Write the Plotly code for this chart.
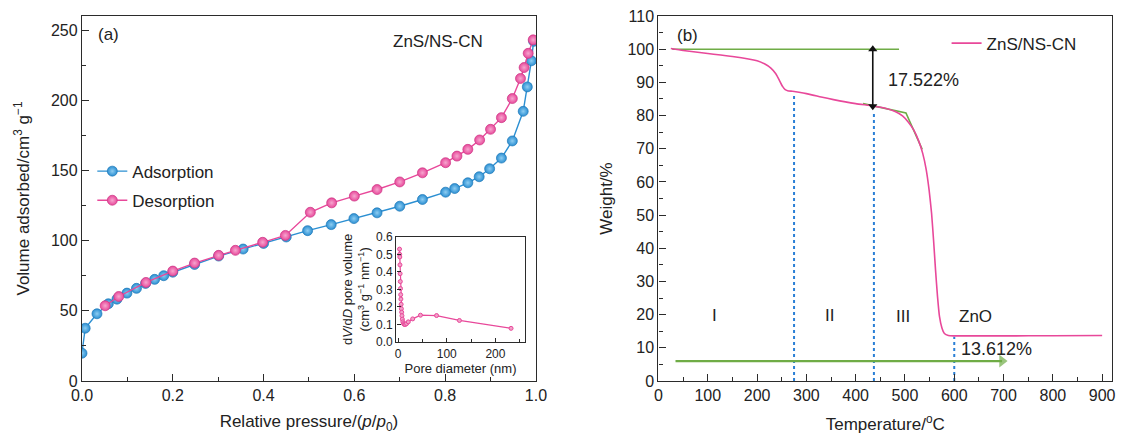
import plotly.graph_objects as go

# ---------------- data: N2 isotherm (panel a) ----------------
ads_p = [0.0, 0.007, 0.033, 0.058, 0.077, 0.099, 0.12, 0.14, 0.16, 0.18, 0.2, 0.248, 0.301,
         0.355, 0.4, 0.45, 0.497, 0.549, 0.599, 0.65, 0.7, 0.75, 0.801, 0.821, 0.85, 0.875,
         0.898, 0.924, 0.948, 0.972, 0.981, 0.99, 0.995]
ads_v = [19.8, 37.6, 47.9, 55.0, 58.3, 62.6, 66.0, 69.5, 72.4, 75.0, 77.5, 83.0, 89.0,
         94.0, 98.0, 102.6, 107.1, 111.4, 115.7, 119.8, 124.5, 129.3, 134.5, 137.1, 141.2, 145.5,
         151.2, 158.8, 171.0, 192.1, 209.5, 228.1, 242.0]
des_p = [0.051, 0.081, 0.141, 0.2, 0.248, 0.301, 0.338, 0.398, 0.448, 0.503, 0.55, 0.6, 0.65,
         0.7, 0.75, 0.801, 0.826, 0.85, 0.876, 0.9, 0.924, 0.948, 0.966, 0.974, 0.983, 0.994]
des_v = [53.6, 60.2, 70.2, 78.3, 84.0, 89.5, 93.1, 98.8, 103.7, 120.2, 126.9, 131.7, 136.4,
         141.8, 148.3, 155.5, 160.2, 165.0, 171.7, 179.3, 187.6, 201.2, 215.5, 223.3, 233.4, 243.0]

# inset: pore size distribution
pore_d = [3.0, 3.3, 3.6, 3.9, 4.2, 4.6, 5.0, 5.4, 5.8, 6.3, 6.8, 7.4, 8.0, 8.8, 9.8,
          11.2, 13.0, 15.0, 17.5, 21.0, 30.0, 46.0, 79.0, 126.0, 232.0]
pore_v = [0.53, 0.50, 0.485, 0.44, 0.39, 0.345, 0.305, 0.27, 0.245, 0.215, 0.19, 0.17, 0.15,
          0.13, 0.115, 0.105, 0.10, 0.10, 0.105, 0.115, 0.132, 0.153, 0.151, 0.123, 0.078]

# ---------------- data: TGA (panel b) ----------------
tga_t = [25, 50, 100, 150, 200, 215, 228, 238, 246, 252, 257, 262, 272, 285, 300, 330, 355,
         400, 435, 460, 480, 495, 507, 518, 528, 536, 543, 549, 554, 558, 562, 566, 570, 575,
         580, 588, 600, 650, 700, 800, 900]
tga_w = [100.2, 99.6, 98.7, 97.8, 96.5, 95.6, 94.3, 92.6, 90.4, 88.7, 87.8, 87.5, 87.3, 87.0,
         86.6, 85.6, 84.8, 83.6, 82.9, 82.2, 81.2, 79.9, 78.0, 75.6, 72.3, 68.6, 63.8, 57.5,
         50.5, 42.5, 33.5, 25.5, 19.5, 16.0, 14.3, 13.7, 13.6, 13.6, 13.6, 13.65, 13.7]

baseline_t = [28, 488]
baseline_w = [100, 100]
tangent_t = [415, 502, 535]
tangent_w = [83.6, 80.8, 69.8]
stage_t = [275, 437, 600]
stage_top = [86.0, 80.5, 13.3]
stage_labels = ["I", "II", "III", "ZnO"]
stage_label_t = [114, 347, 496, 643]
stage_label_w = [19.8, 19.6, 19.3, 19.3]
loss_t = 434.7
loss_w = [100, 82.8]
residue_t = [34.5, 697]
residue_w = [6.0, 6.0]

BLUE = "#2b8fd2"
PINK = "#e8489a"
GREEN = "#6fac46"
DOTBLUE = "#2a7fd6"
AX = "#2b2b2b"
FONT = "Arial, Liberation Sans, sans-serif"

fig = go.Figure()

sphere = lambda c, g, e: dict(size=10, color=c, gradient=dict(type="radial", color=g),
                              line=dict(width=0.7, color=e))

fig.add_trace(go.Scatter(x=ads_p, y=ads_v, mode="lines+markers", name="Adsorption",
                         line=dict(color=BLUE, width=1.4),
                         marker=sphere(BLUE, "#8ecdf2", "#1f78b8"),
                         xaxis="x", yaxis="y", legend="legend", legendgroup="a"))
fig.add_trace(go.Scatter(x=des_p, y=des_v, mode="lines+markers", name="Desorption",
                         line=dict(color=PINK, width=1.4),
                         marker=sphere(PINK, "#f6a6cf", "#cc3584"),
                         xaxis="x", yaxis="y", legend="legend", legendgroup="b"))

fig.add_trace(go.Scatter(x=pore_d, y=pore_v, mode="lines+markers", showlegend=False,
                         line=dict(color=PINK, width=1.2),
                         marker=dict(size=4, color="#f3a0c8", line=dict(width=1, color=PINK)),
                         xaxis="x3", yaxis="y3"))

# panel b
fig.add_trace(go.Scatter(x=baseline_t, y=baseline_w, mode="lines", showlegend=False,
                         line=dict(color=GREEN, width=1.6), xaxis="x2", yaxis="y2"))
fig.add_trace(go.Scatter(x=tangent_t, y=tangent_w, mode="lines", showlegend=False,
                         line=dict(color=GREEN, width=1.6), xaxis="x2", yaxis="y2"))
for t, top in zip(stage_t, stage_top):
    fig.add_trace(go.Scatter(x=[t, t], y=[0, top], mode="lines", showlegend=False,
                             line=dict(color=DOTBLUE, width=2, dash="dot"),
                             xaxis="x2", yaxis="y2"))
fig.add_trace(go.Scatter(x=tga_t, y=tga_w, mode="lines", name="ZnS/NS-CN",
                         line=dict(color=PINK, width=1.6, shape="spline", smoothing=0.5),
                         xaxis="x2", yaxis="y2", legend="legend2"))
# double-headed weight-loss arrow
fig.add_trace(go.Scatter(x=[loss_t, loss_t], y=loss_w, mode="lines+markers", showlegend=False,
                         line=dict(color="#111111", width=1.6),
                         marker=dict(symbol=["triangle-up", "triangle-down"], size=8,
                                     color="#111111", line=dict(width=0)),
                         xaxis="x2", yaxis="y2", hoverinfo="skip"))
# green residue arrow
fig.add_trace(go.Scatter(x=residue_t, y=residue_w, mode="lines+markers", showlegend=False,
                         line=dict(color=GREEN, width=2.4),
                         marker=dict(symbol=["line-ns", "triangle-right"], size=[1, 11],
                                     color=GREEN, line=dict(width=0)),
                         xaxis="x2", yaxis="y2", hoverinfo="skip"))

annotations = [
    dict(text="(a)", x=0.058, y=247, xref="x", yref="y", showarrow=False,
         font=dict(size=17)),
    dict(text="ZnS/NS-CN", x=0.784, y=242, xref="x", yref="y", showarrow=False,
         font=dict(size=17)),
    dict(text="(b)", x=58, y=104, xref="x2", yref="y2", showarrow=False, font=dict(size=17)),
    dict(text="17.522%", x=538, y=90.6, xref="x2", yref="y2", showarrow=False,
         font=dict(size=18)),
    dict(text="13.612%", x=685, y=9.6, xref="x2", yref="y2", showarrow=False,
         font=dict(size=18)),
]
for lab, t, w in zip(stage_labels, stage_label_t, stage_label_w):
    annotations.append(dict(text=lab, x=t, y=w, xref="x2", yref="y2", showarrow=False,
                            font=dict(size=17)))

def axis(domain, anchor, rng, dtick, mdtick, title, fmt=None, fs=16, tl=7, standoff=None):
    d = dict(domain=domain, anchor=anchor, range=rng, dtick=dtick, tick0=0,
             showline=True, linecolor=AX, linewidth=1.4, mirror=True,
             ticks="inside", ticklen=tl, tickwidth=1.3, tickcolor=AX,
             showgrid=False, zeroline=False, automargin=False,
             tickfont=dict(size=fs, color="#222222", family=FONT),
             title=dict(text=title, font=dict(size=fs + 1, color="#222222", family=FONT)))
    if standoff is not None:
        d["title"]["standoff"] = standoff
    if fmt:
        d["tickformat"] = fmt
    if mdtick:
        d["minor"] = dict(dtick=mdtick, ticks="inside", ticklen=tl // 2 + 1, tickwidth=1.1,
                          tickcolor=AX, showgrid=False)
    return d

fig.update_layout(
    width=1122, height=434, autosize=False,
    margin=dict(l=82, r=10, t=16, b=53, autoexpand=False),
    paper_bgcolor="white", plot_bgcolor="white",
    font=dict(family=FONT, color="#222222"),
    xaxis=axis([0.0, 0.4407], "y", [0, 1], 0.2, 0.1,
               "Relative pressure/(<i>p</i>/<i>p</i><sub>0</sub>)", fmt=".1f", standoff=13),
    yaxis=axis([0.0, 1.0], "x", [0, 260], 50, 25,
               "Volume adsorbed/cm<sup>3</sup> g<sup>−1</sup>", standoff=16),
    xaxis2=axis([0.5597, 1.0], "y2", [0, 920], 100, 50,
                "Temperature/<sup>o</sup>C", standoff=14),
    yaxis2=axis([0.0, 1.0], "x2", [0, 110], 10, 5, "Weight/%", standoff=10),
    xaxis3=axis([0.3052, 0.4298], "y3", [-3.5, 260], 100, 50, "Pore diameter (nm)",
                fs=12, tl=4, standoff=0),
    yaxis3=axis([0.1068, 0.395], "x3", [0, 0.6], 0.1, None,
                "d<i>V</i>/d<i>D</i> pore volume<br>(cm<sup>3</sup> g<sup>−1</sup> nm<sup>−1</sup>)",
                fmt=".1f", fs=12, tl=4, standoff=3),
    legend=dict(x=0.010, y=0.534, xanchor="left", yanchor="middle", bgcolor="rgba(0,0,0,0)",
                font=dict(size=17, color="#222222"), tracegroupgap=4, itemwidth=30),
    legend2=dict(x=0.8394, y=0.9245, xanchor="left", yanchor="middle",
                 bgcolor="rgba(0,0,0,0)", font=dict(size=17, color="#222222"), itemwidth=30),
    annotations=annotations,
    showlegend=True,
)

fig.write_html("out.html")
